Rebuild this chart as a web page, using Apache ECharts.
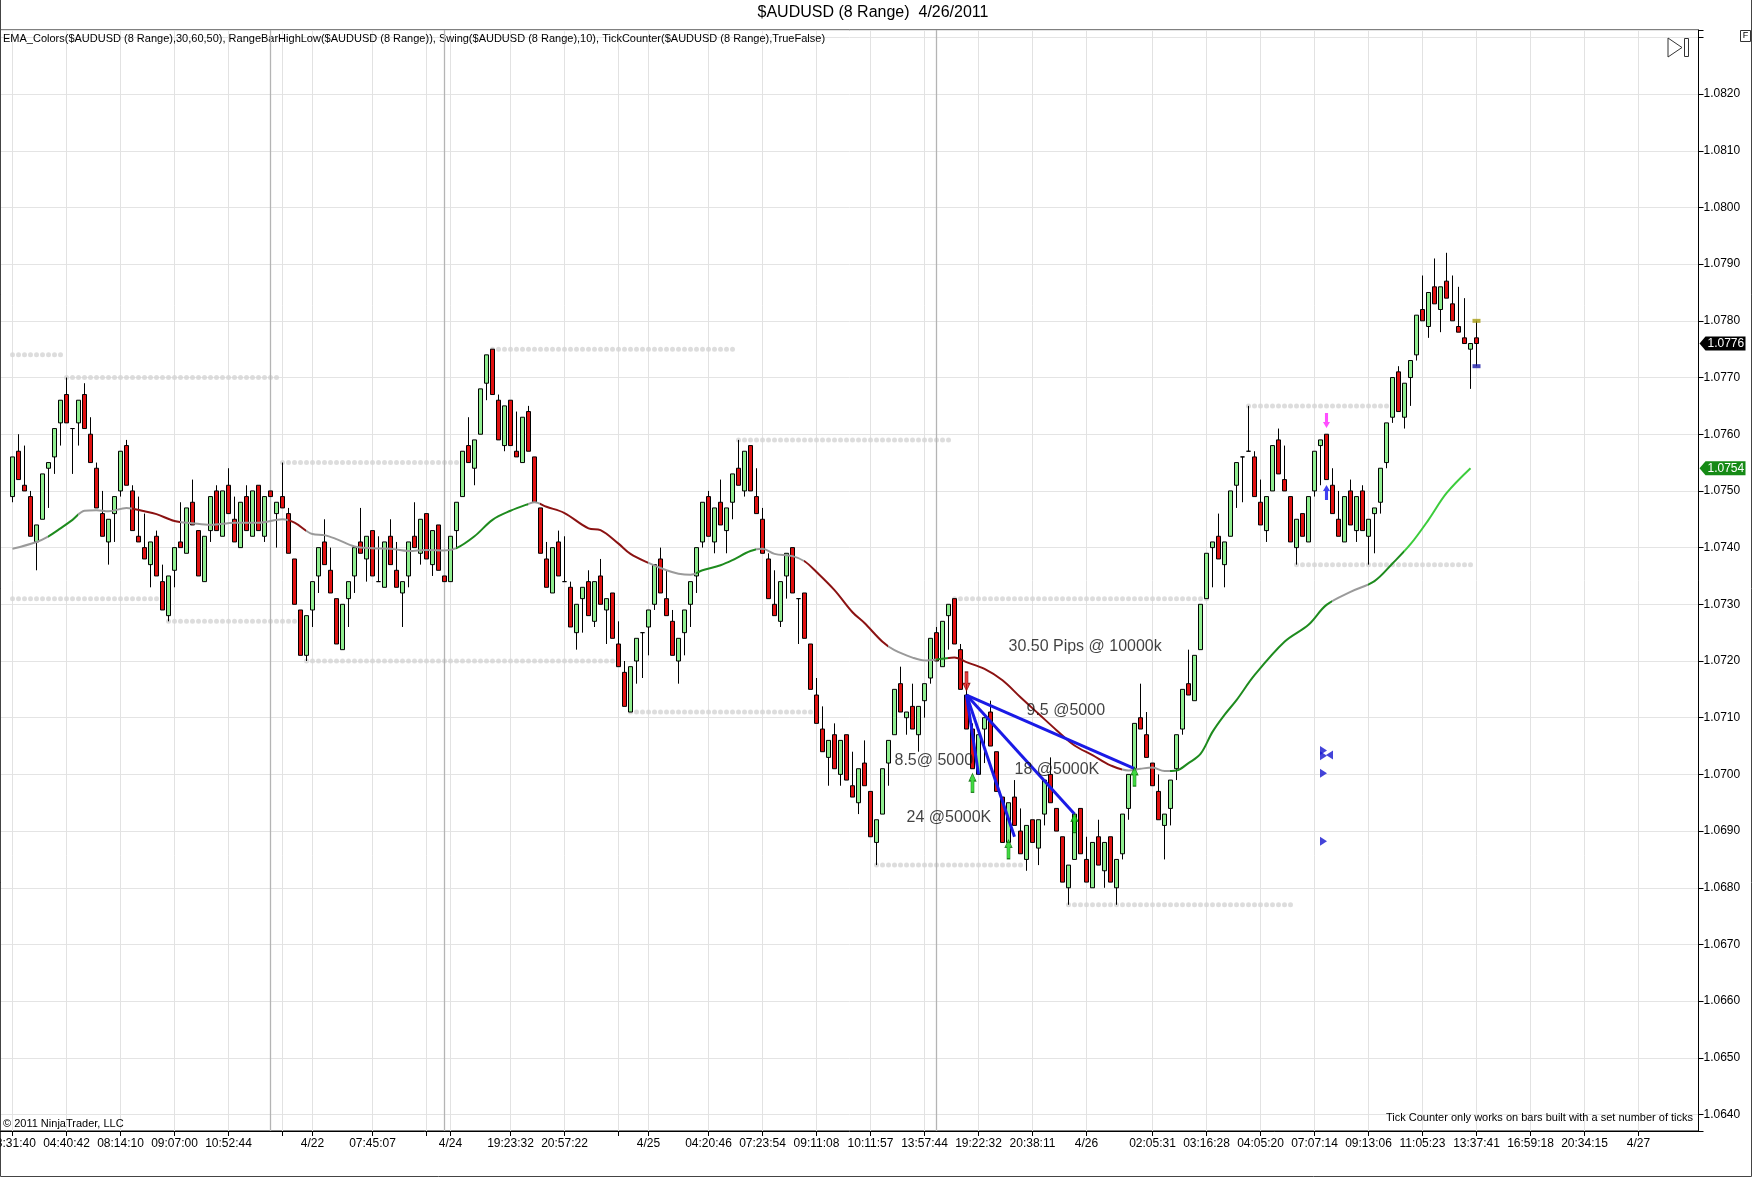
<!DOCTYPE html>
<html>
<head>
<meta charset="utf-8">
<title>$AUDUSD (8 Range)  4/26/2011</title>
<script src="https://cdn.jsdelivr.net/npm/echarts@6.0.0/dist/echarts.min.js"></script>
<style>
  html, body { margin: 0; padding: 0; background: #fff; }
  #chart { width: 1752px; height: 1177px; }
</style>
</head>
<body>
<div id="chart"></div>
<script>
// all prices below are in pips (1 pip = 0.0001)
var PIP = 10000;
var slotCount = 284;   // x slots: 245 bars + room on the right
var firstSlot = 2;     // slot of bar #1

// range bars, bar #1 .. #245 : [open, close, low, high]
var candles = [
  [10749,10756,10748,10756],[10757,10752,10752,10760],[10751,10750,10750,10758],[10749,10742,10742,10750],[10741,10744,10736,10744],
  [10745,10753,10745,10753],[10754,10755,10747,10755],[10756,10761,10753,10761],[10762,10766,10758,10766],[10767,10762,10762,10770],
  [10761,10761,10753,10761],[10762,10766,10758,10766],[10767,10761,10761,10769],[10760,10755,10755,10763],[10754,10747,10747,10755],
  [10746,10742,10742,10750],[10741,10745,10737,10745],[10746,10749,10741,10749],[10750,10757,10749,10757],[10758,10751,10751,10759],
  [10750,10743,10743,10751],[10742,10741,10741,10749],[10740,10738,10738,10746],[10737,10741,10733,10741],[10742,10735,10735,10743],
  [10734,10729,10729,10737],[10728,10735,10727,10735],[10736,10740,10733,10740],[10741,10740,10740,10748],[10739,10747,10739,10747],
  [10748,10744,10744,10752],[10743,10735,10735,10743],[10734,10742,10734,10742],[10743,10749,10741,10749],[10750,10743,10743,10751],
  [10742,10750,10742,10750],[10751,10746,10746,10754],[10745,10741,10741,10749],[10740,10748,10740,10748],[10749,10743,10743,10751],
  [10742,10750,10742,10750],[10751,10743,10743,10751],[10742,10749,10741,10749],[10750,10749,10749,10750],[10746,10748,10740,10748],
  [10749,10747,10747,10755],[10746,10739,10739,10747],[10738,10730,10730,10738],[10729,10721,10721,10729],[10721,10728,10720,10728],
  [10729,10734,10726,10734],[10735,10740,10732,10740],[10741,10737,10737,10745],[10736,10732,10732,10740],[10731,10723,10723,10731],
  [10722,10730,10722,10730],[10731,10734,10726,10734],[10735,10740,10732,10740],[10741,10739,10739,10747],[10738,10742,10734,10742],
  [10743,10735,10735,10743],[10734,10734,10734,10742],[10733,10741,10733,10741],[10742,10737,10737,10745],[10736,10733,10733,10741],
  [10732,10734,10726,10734],[10735,10741,10733,10741],[10742,10740,10740,10748],[10739,10745,10737,10745],[10746,10738,10738,10746],
  [10737,10743,10735,10743],[10744,10736,10736,10744],[10735,10734,10734,10735],[10734,10742,10734,10742],[10743,10748,10740,10748],
  [10749,10757,10749,10757],[10758,10755,10755,10763],[10754,10759,10751,10759],[10760,10768,10760,10768],[10769,10774,10766,10774],
  [10775,10767,10767,10775],[10766,10759,10759,10767],[10758,10765,10757,10765],[10766,10758,10758,10766],[10757,10756,10756,10764],
  [10755,10763,10755,10763],[10764,10757,10757,10765],[10756,10748,10748,10756],[10747,10739,10739,10747],[10738,10733,10733,10741],
  [10732,10740,10732,10740],[10741,10735,10735,10743],[10734,10734,10734,10742],[10733,10726,10726,10734],[10725,10730,10722,10730],
  [10731,10733,10725,10733],[10734,10728,10728,10736],[10727,10734,10726,10734],[10735,10730,10730,10738],[10729,10731,10723,10731],
  [10732,10724,10724,10732],[10723,10719,10719,10727],[10718,10712,10712,10720],[10711,10719,10711,10719],[10720,10724,10716,10724],
  [10725,10725,10717,10725],[10726,10729,10721,10729],[10730,10737,10729,10737],[10738,10732,10732,10740],[10731,10728,10728,10736],
  [10727,10721,10721,10729],[10720,10724,10716,10724],[10725,10729,10721,10729],[10730,10734,10726,10734],[10735,10740,10732,10740],
  [10741,10748,10740,10748],[10749,10742,10742,10750],[10741,10747,10739,10747],[10748,10744,10744,10752],[10743,10747,10739,10747],
  [10748,10753,10745,10753],[10754,10751,10751,10759],[10750,10757,10749,10757],[10758,10750,10750,10758],[10749,10746,10746,10754],
  [10745,10739,10739,10747],[10738,10731,10731,10739],[10730,10728,10728,10736],[10727,10734,10726,10734],[10735,10739,10731,10739],
  [10740,10732,10732,10740],[10731,10731,10723,10731],[10732,10724,10724,10732],[10723,10715,10715,10723],[10714,10709,10709,10717],
  [10708,10704,10704,10712],[10703,10706,10698,10706],[10707,10701,10701,10709],[10700,10706,10698,10706],[10707,10699,10699,10707],
  [10698,10696,10696,10704],[10695,10701,10693,10701],[10702,10698,10698,10706],[10697,10689,10689,10697],[10688,10692,10684,10692],
  [10693,10701,10693,10701],[10702,10706,10698,10706],[10707,10715,10707,10715],[10716,10711,10711,10719],[10710,10711,10707,10711],
  [10712,10708,10708,10716],[10707,10712,10704,10712],[10713,10716,10710,10716],[10717,10724,10716,10724],[10725,10720,10720,10726],
  [10719,10727,10719,10727],[10728,10730,10722,10730],[10731,10723,10723,10731],[10722,10715,10715,10723],[10714,10708,10708,10716],
  [10708,10701,10701,10709],[10700,10707,10700,10707],[10708,10710,10702,10710],[10711,10705,10705,10713],[10704,10697,10697,10704],
  [10696,10688,10688,10696],[10688,10695,10688,10695],[10696,10691,10691,10699],[10690,10686,10686,10694],[10685,10691,10683,10691],
  [10692,10688,10688,10692],[10687,10692,10684,10692],[10693,10699,10691,10699],[10700,10695,10695,10703],[10694,10690,10690,10694],
  [10689,10681,10681,10689],[10680,10684,10677,10684],[10685,10693,10685,10693],[10694,10686,10686,10694],[10685,10681,10681,10689],
  [10680,10688,10680,10688],[10689,10684,10684,10692],[10683,10688,10680,10688],[10689,10681,10681,10689],[10680,10685,10677,10685],
  [10686,10693,10685,10693],[10694,10700,10692,10700],[10701,10709,10701,10709],[10710,10708,10708,10716],[10707,10703,10703,10711],
  [10702,10698,10698,10702],[10697,10692,10692,10700],[10691,10693,10685,10693],[10694,10699,10691,10699],[10701,10707,10699,10707],
  [10708,10715,10707,10715],[10716,10714,10714,10722],[10713,10721,10713,10721],[10722,10730,10722,10730],[10731,10739,10731,10739],
  [10740,10741,10733,10741],[10742,10738,10738,10746],[10737,10741,10733,10741],[10742,10750,10742,10750],[10751,10755,10747,10755],
  [10756,10756,10748,10756],[10757,10757,10757,10765],[10756,10749,10749,10757],[10748,10744,10744,10752],[10743,10749,10741,10749],
  [10750,10758,10750,10758],[10759,10753,10753,10761],[10752,10750,10750,10758],[10749,10741,10741,10749],[10740,10745,10737,10745],
  [10746,10742,10742,10746],[10741,10749,10741,10749],[10750,10757,10749,10757],[10758,10759,10751,10759],[10760,10752,10752,10760],
  [10751,10746,10746,10754],[10745,10742,10742,10750],[10741,10749,10741,10749],[10750,10744,10744,10752],[10743,10749,10741,10749],
  [10750,10743,10743,10751],[10742,10745,10737,10745],[10746,10747,10739,10747],[10748,10754,10746,10754],[10755,10762,10754,10762],
  [10763,10770,10762,10770],[10771,10764,10764,10772],[10763,10769,10761,10769],[10770,10773,10765,10773],[10774,10781,10773,10781],
  [10782,10780,10780,10788],[10779,10785,10777,10785],[10786,10783,10783,10791],[10782,10786,10778,10786],[10787,10784,10784,10792],
  [10783,10780,10780,10788],[10779,10778,10778,10786],[10777,10776,10776,10784],[10775,10776,10768,10776],[10777,10776,10772,10780]
];

// EMA: [bar, pips]
var emaPoints = [
  [1,10739.8],[5,10741],[7,10742],[9,10743.4],[11,10744.9],[13,10746.5],[15,10746.6],[17,10746.4],[20,10747],[23,10746.4],
  [25,10745.9],[28,10744.7],[31,10744.3],[34,10744],[38,10744.4],[42,10744.4],[46,10745],[48,10744.4],[51,10742.4],[53,10742.2],
  [55,10741.5],[58,10740.2],[61,10739.9],[64,10739.8],[67,10739.4],[70,10739.6],[73,10739.5],[75,10739.9],[78,10742],[81,10744.9],
  [84,10746.5],[87,10747.7],[88,10748],[90,10747.2],[93,10746.1],[97,10743.4],[99,10743.1],[102,10740.7],[104,10738.9],[107,10737.3],
  [110,10736],[112,10735.4],[114,10735.2],[116,10736],[119,10736.9],[121,10737.8],[124,10739.4],[126,10739.8],[128,10738.9],[131,10738.5],
  [133,10737.6],[135,10735.7],[138,10732.5],[141,10728.6],[143,10726.7],[146,10723.4],[148,10721.9],[151,10720.6],[153,10720.1],[156,10720.4],
  [158,10720.6],[160,10719.8],[163,10718.6],[166,10716.6],[169,10713.6],[172,10710.7],[175,10707.8],[178,10705.1],[181,10703.4],[184,10701.6],
  [187,10700.7],[189,10701],[191,10701.2],[193,10700.6],[195,10700.7],[197,10702],[199,10703.6],[201,10707.5],[203,10710.5],[205,10713.1],
  [208,10717.5],[213,10723.4],[217,10726.4],[220,10729.9],[224,10732.2],[228,10734.1],[231,10737.2],[234,10740.6],[237,10744.9],[240,10749.6],
  [244,10754]
];

// EMA colour by slope: [fromBar, toBar, colour]
var emaRuns = [
  [1,7,'#9a9a9a'],[7,12,'#1e8b1e'],[12,21,'#9a9a9a'],[21,29,'#8b1212'],[29,47,'#9a9a9a'],[47,50,'#8b1212'],
  [50,75,'#9a9a9a'],[75,87,'#1e8b1e'],[87,89,'#9a9a9a'],[89,107,'#8b1212'],[107,115,'#9a9a9a'],[115,125,'#1e8b1e'],
  [125,133,'#9a9a9a'],[133,147,'#8b1212'],[147,155,'#9a9a9a'],[155,157,'#1e8b1e'],[157,186,'#8b1212'],[186,194,'#9a9a9a'],
  [194,221,'#1e8b1e'],[221,227,'#9a9a9a'],[227,233,'#1e8b1e'],[233,246,'#3ccc3c']
];

// swing levels (dotted): [fromBar, toBar, pips]
var swingLevels = [
  [1,9,10774],[10,45,10770],[1,25,10731],[27,48,10727],[46,75,10755],[50,101,10720],[81,121,10775],
  [104,134,10711],[122,157,10759],[145,169,10684],[158,200,10731],[177,214,10677],[207,230,10765],[215,244,10737]
];

// time axis: [slot, label]  ('' = tick without text)
var timeLabels = [
  [2,'23:31:40'],[11,'04:40:42'],[20,'08:14:10'],[29,'09:07:00'],[38,'10:52:44'],[47,''],[52,'4/22'],[62,'07:45:07'],
  [71,''],[75,'4/24'],[85,'19:23:32'],[94,'20:57:22'],[103,''],[108,'4/25'],[118,'04:20:46'],[127,'07:23:54'],
  [136,'09:11:08'],[145,'10:11:57'],[154,'13:57:44'],[163,'19:22:32'],[172,'20:38:11'],[181,'4/26'],[192,'02:05:31'],
  [201,'03:16:28'],[210,'04:05:20'],[219,'07:07:14'],[228,'09:13:06'],[237,'11:05:23'],[246,'13:37:41'],
  [255,'16:59:18'],[264,'20:34:15'],[273,'4/27']
];
var sessionBreaks = [45, 74, 156];

// manual trade drawing
var tradeEntry = [160, 10714];
var tradeExits = [[162, 10700], [168, 10689], [178, 10693], [188, 10701]];
var tradeNotes = [
  [167, 10722.5, '30.50 Pips @ 10000k'],
  [170, 10711.3, '9.5 @5000'],
  [148, 10702.5, '8.5@ 5000'],
  [168, 10700.8, '18 @5000K'],
  [150, 10692.3, '24 @5000K']
];
var exitArrows = [[161, 10698.5], [167, 10686.8], [178, 10691.4], [188, 10699.6]];
var entryArrows = [[160, 10716.4]];
var alertDown = [[220, 10762.4]];
var alertUp = [[220, 10749.7]];
var orderRight = [[220, 10704.2], [220, 10703.3], [220, 10700.2], [220, 10688.2]];
var orderLeft = [[220, 10703.4]];
var rangeMarks = [[245, 10780, '#a89c10'], [245, 10772, '#1a1aa8']];

var FONT = '"Liberation Sans", Arial, sans-serif';

function slot(bar) { return bar - 1 + firstSlot; }
function px(p) { return p / PIP; }

var slots = [];
for (var i = 0; i < slotCount; i++) slots.push(String(i));
var labelBySlot = {};
timeLabels.forEach(function (t) { labelBySlot[t[0]] = t[1]; });
function isTick(index) { return labelBySlot.hasOwnProperty(index); }

var candleData = candles.map(function (c, i) {
  return [slot(i + 1), px(c[0]), px(c[1]), px(c[2]), px(c[3])];
});
var emaData = emaPoints.map(function (p) { return [slot(p[0]), px(p[1])]; });
var dotData = [];
swingLevels.forEach(function (s) {
  for (var b = s[0]; b <= s[1]; b++) dotData.push([slot(b), px(s[2])]);
});
function pts(list) { return list.map(function (p) { return [slot(p[0]), px(p[1])]; }); }

var arrowUp = 'path://M5,0 L10,8 L7.2,8 L7.2,20 L2.8,20 L2.8,8 L0,8 Z';

var series = [
  {
    name: 'swing', type: 'scatter', data: dotData, symbol: 'circle', symbolSize: 5, silent: true, z: 2,
    itemStyle: { color: '#d4d4d4' },
    markLine: {
      silent: true, symbol: 'none', label: { show: false },
      lineStyle: { color: '#b4b4b4', width: 1.3, type: 'solid' },
      data: sessionBreaks.map(function (k) { return { xAxis: k }; })
    }
  },
  {
    name: 'EMA', type: 'line', data: emaData, smooth: 0.35, symbol: 'none', z: 6,
    lineStyle: { width: 2 }
  },
  {
    name: '$AUDUSD', type: 'candlestick', data: candleData, encode: { x: 0, y: [1, 2, 3, 4] },
    barWidth: 5, z: 5,
    itemStyle: { color: '#90ee90', color0: '#e01010', borderColor: '#000', borderColor0: '#000', borderWidth: 1 }
  }
];
tradeExits.forEach(function (t) {
  series.push({
    type: 'line', data: pts([tradeEntry, t]), symbol: 'none', silent: true, z: 8,
    lineStyle: { color: '#1a1ae6', width: 3 }
  });
});
series.push(
  {
    type: 'scatter', data: pts(exitArrows), symbol: arrowUp, symbolSize: [7, 19], z: 9, silent: true,
    itemStyle: { color: '#12d012', borderColor: '#0a6a0a', borderWidth: 0.8 }
  },
  {
    type: 'scatter', data: pts(entryArrows), symbol: arrowUp, symbolRotate: 180, symbolSize: [7, 19], z: 9, silent: true,
    itemStyle: { color: '#e01010', borderColor: '#700', borderWidth: 0.8 }
  },
  {
    type: 'scatter', data: pts(alertDown), symbol: arrowUp, symbolRotate: 180, symbolSize: [7, 15], z: 9, silent: true,
    itemStyle: { color: '#ff22ff' }
  },
  {
    type: 'scatter', data: pts(alertUp), symbol: arrowUp, symbolSize: [7, 15], z: 9, silent: true,
    itemStyle: { color: '#1010ee' }
  },
  {
    type: 'scatter', data: pts(orderRight), symbol: 'triangle', symbolRotate: -90, symbolSize: [9, 7],
    symbolOffset: [-3, 0], z: 9, silent: true, itemStyle: { color: '#1515d0' }
  },
  {
    type: 'scatter', data: pts(orderLeft), symbol: 'triangle', symbolRotate: 90, symbolSize: [9, 7],
    symbolOffset: [3, 0], z: 9, silent: true, itemStyle: { color: '#1515d0' }
  },
  {
    type: 'scatter', symbol: 'rect', symbolSize: [8, 4], z: 9, silent: true,
    data: rangeMarks.map(function (r) { return { value: [slot(r[0]), px(r[1])], itemStyle: { color: r[2] } }; })
  },
  {
    type: 'scatter', symbolSize: 0, z: 10, silent: true,
    data: tradeNotes.map(function (n) { return { value: [slot(n[0]), px(n[1])], name: n[2] }; }),
    label: { show: true, position: 'right', distance: 0, formatter: '{b}', fontSize: 16, color: '#111', fontFamily: FONT, textBorderWidth: 0 }
  }
);

var chart = echarts.init(document.getElementById('chart'));
chart.setOption({
  animation: false,
  backgroundColor: '#fff',
  textStyle: { fontFamily: FONT },
  grid: {
    left: 0.5, right: 53.5, top: 30, bottom: 46, show: true, borderColor: '#000', borderWidth: 1,
    containLabel: false, outerBoundsMode: 'none'
  },
  xAxis: {
    type: 'category', data: slots, boundaryGap: false,
    axisLine: { lineStyle: { color: '#000' } },
    axisTick: { interval: isTick, length: 5, lineStyle: { color: '#000' } },
    axisLabel: {
      interval: isTick, margin: 7, fontSize: 12, color: '#000',
      formatter: function (v, idx) { return labelBySlot[idx] || ''; }
    },
    splitLine: { show: true, interval: isTick, lineStyle: { color: '#e2e2e2' } }
  },
  yAxis: {
    type: 'value', position: 'right', min: 1.06371, max: 1.08313,
    splitNumber: 19, minInterval: 0.001, maxInterval: 0.001,
    axisLine: { show: true, lineStyle: { color: '#000' } },
    axisTick: { show: true, length: 5, lineStyle: { color: '#000' } },
    axisLabel: {
      margin: 5, fontSize: 12, color: '#000',
      formatter: function (v) {
        var m = v * 1000;
        if (Math.abs(m - Math.round(m)) > 1e-6 || v > 1.0825) return '';
        return v.toFixed(4);
      }
    },
    splitLine: { show: true, lineStyle: { color: '#e4e4e4' } }
  },
  visualMap: {
    type: 'piecewise', show: false, seriesIndex: 1, dimension: 0,
    pieces: emaRuns.map(function (r) { return { gte: slot(r[0]), lt: slot(r[1]), color: r[2] }; }),
    outOfRange: { color: '#9a9a9a' }
  },
  series: series
});

// price tags on the axis + static text
function priceTag(price, bg) {
  var y = chart.convertToPixel({ yAxisIndex: 0 }, price);
  var x = chart.convertToPixel({ xAxisIndex: 0 }, slotCount - 1);
  return {
    type: 'group', x: x, y: y, z: 20, children: [
      { type: 'polygon', shape: { points: [[1, 0], [7, -7], [47, -7], [47, 7], [7, 7]] }, style: { fill: bg } },
      { type: 'text', x: 9, y: 0, style: { text: price.toFixed(4), fill: '#fff', font: '12px ' + FONT, verticalAlign: 'middle' } }
    ]
  };
}
var lastClose = px(candles[candles.length - 1][1]);
var lastEma = px(emaPoints[emaPoints.length - 1][1]);

chart.setOption({
  graphic: [
    { type: 'text', x: 873, y: 13, style: { text: '$AUDUSD (8 Range)  4/26/2011', font: '16px ' + FONT, fill: '#000', align: 'center', verticalAlign: 'middle' } },
    { type: 'text', x: 3, y: 39, style: { text: 'EMA_Colors($AUDUSD (8 Range),30,60,50), RangeBarHighLow($AUDUSD (8 Range)), Swing($AUDUSD (8 Range),10), TickCounter($AUDUSD (8 Range),TrueFalse)', font: '11px ' + FONT, fill: '#000', verticalAlign: 'middle' } },
    { type: 'text', x: 3, y: 1124, style: { text: '\u00a9 2011 NinjaTrader, LLC', font: '11px ' + FONT, fill: '#000', verticalAlign: 'middle' } },
    { type: 'text', x: 1693, y: 1118, style: { text: 'Tick Counter only works on bars built with a set number of ticks', font: '11px ' + FONT, fill: '#000', align: 'right', verticalAlign: 'middle' } },
    { type: 'polygon', shape: { points: [[1668, 38], [1682, 47.5], [1668, 57]] }, style: { fill: 'none', stroke: '#333', lineWidth: 1 } },
    { type: 'rect', shape: { x: 1684.5, y: 38.5, width: 4, height: 18 }, style: { fill: 'none', stroke: '#333', lineWidth: 1 } },
    { type: 'rect', shape: { x: 1740.5, y: 30.5, width: 10, height: 11 }, style: { fill: '#fff', stroke: '#333', lineWidth: 1 } },
    { type: 'text', x: 1745.5, y: 36, style: { text: 'F', font: '9px ' + FONT, fill: '#000', align: 'center', verticalAlign: 'middle' } },
    { type: 'polyline', shape: { points: [[0.5, 0], [0.5, 1176.5], [1751.5, 1176.5], [1751.5, 0]] }, style: { fill: 'none', stroke: '#444', lineWidth: 1 } },
    priceTag(lastClose, '#000'),
    priceTag(lastEma, '#158a15')
  ]
});
</script>
</body>
</html>
